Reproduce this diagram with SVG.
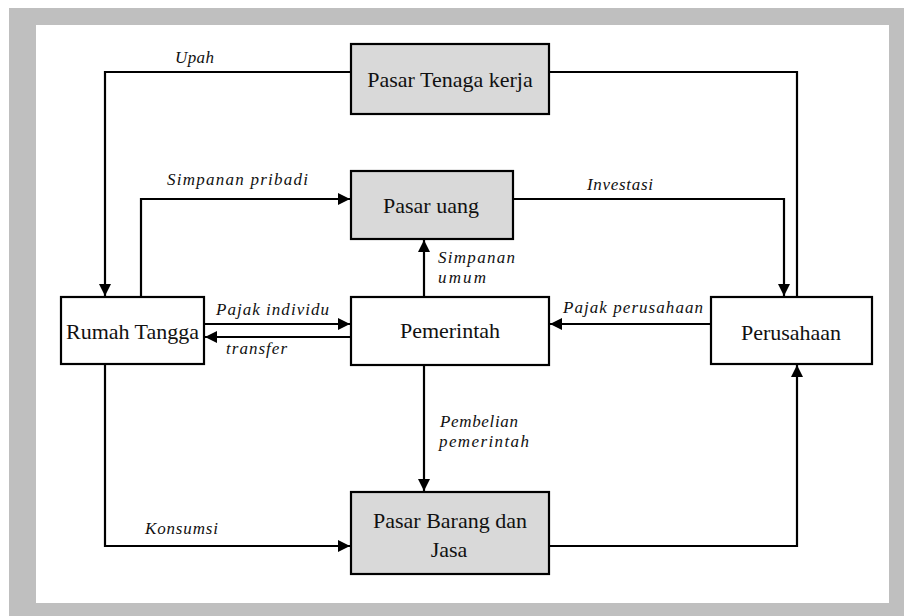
<svg xmlns="http://www.w3.org/2000/svg" width="904" height="616" viewBox="0 0 904 616">
<style>
.box{stroke:#000;stroke-width:2.2}
.w{fill:#fff}
.g{fill:#d9d9d9}
.n{font-family:"Liberation Serif","Times New Roman",serif;font-size:22px;fill:#111;text-anchor:middle}
.l{font-family:"Liberation Serif","Times New Roman",serif;font-size:17px;font-style:italic;fill:#111}
.c{fill:none;stroke:#000;stroke-width:2.2}
</style>
<defs>
<marker id="ah" markerUnits="userSpaceOnUse" markerWidth="13" markerHeight="12" refX="12" refY="6" orient="auto">
<path d="M0,0 L12,6 L0,12 z" fill="#000"/>
</marker>
</defs>
<rect x="0" y="0" width="904" height="616" fill="#fff"/>
<rect x="9" y="8" width="895" height="608" fill="#bfbfbf"/>
<rect x="36" y="25" width="853" height="578" fill="#fff"/>
<g id="connectors">
<polyline class="c" points="350,72 105,72 105,296" marker-end="url(#ah)"/>
<polyline class="c" points="549,72 797,72 797,296"/>
<polyline class="c" points="141,296 141,199 350,199" marker-end="url(#ah)"/>
<polyline class="c" points="513,199 784,199 784,296" marker-end="url(#ah)"/>
<line class="c" x1="424" y1="296" x2="424" y2="240" marker-end="url(#ah)"/>
<line class="c" x1="204" y1="324" x2="350" y2="324" marker-end="url(#ah)"/>
<line class="c" x1="350" y1="337" x2="205" y2="337" marker-end="url(#ah)"/>
<line class="c" x1="710" y1="324" x2="550" y2="324" marker-end="url(#ah)"/>
<line class="c" x1="424" y1="365" x2="424" y2="491" marker-end="url(#ah)"/>
<polyline class="c" points="105,364 105,546 350,546" marker-end="url(#ah)"/>
<polyline class="c" points="549,546 797,546 797,365" marker-end="url(#ah)"/>
<text class="l" x="175" y="63" textLength="39">Upah</text>
<text class="l" x="167" y="185" textLength="141">Simpanan pribadi</text>
<text class="l" x="587" y="190" textLength="66">Investasi</text>
<text class="l" x="438" y="263" textLength="77">Simpanan</text>
<text class="l" x="438" y="283" textLength="48">umum</text>
<text class="l" x="216" y="315" textLength="113">Pajak individu</text>
<text class="l" x="226" y="354" textLength="61">transfer</text>
<text class="l" x="563" y="313" textLength="140">Pajak perusahaan</text>
<text class="l" x="440" y="427" textLength="78">Pembelian</text>
<text class="l" x="439" y="447" textLength="90">pemerintah</text>
<text class="l" x="145" y="534" textLength="73">Konsumsi</text>
</g>
<g id="pasar-tenaga-kerja">
<rect class="box g" x="351" y="44" width="198" height="70"/>
<text class="n" x="450" y="87">Pasar Tenaga kerja</text>
</g>
<g id="pasar-uang">
<rect class="box g" x="351" y="171" width="162" height="68"/>
<text class="n" x="431" y="213">Pasar uang</text>
</g>
<g id="rumah-tangga">
<rect class="box w" x="61" y="297" width="143" height="67"/>
<text class="n" x="132.5" y="339">Rumah Tangga</text>
</g>
<g id="pemerintah">
<rect class="box w" x="351" y="297" width="198" height="68"/>
<text class="n" x="450" y="338">Pemerintah</text>
</g>
<g id="perusahaan">
<rect class="box w" x="711" y="297" width="161" height="67"/>
<text class="n" x="791" y="340">Perusahaan</text>
</g>
<g id="pasar-barang-dan-jasa">
<rect class="box g" x="351" y="492" width="198" height="82"/>
<text class="n" x="450" y="528">Pasar Barang dan</text>
<text class="n" x="449" y="557">Jasa</text>
</g>
</svg>
